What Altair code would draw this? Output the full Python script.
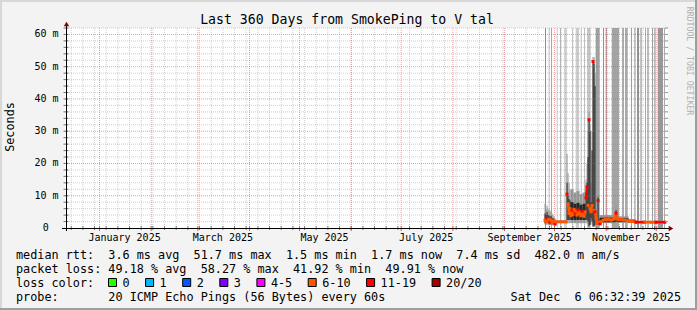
import altair as alt
import pandas as pd

FONT = "DejaVu Sans Mono"
START = pd.Timestamp("2024-12-11 06:32:39")
END = pd.Timestamp("2025-12-06 06:32:39")
DAY = pd.Timedelta(days=1)
SPAN = (END - START) / DAY
REF = pd.Timestamp("2025-10-01 00:00:00")
REF_D = (REF - START) / DAY

W, H = 600, 200
YMAX = 62.0
PADL, PADT = 65, 28

# ---------------- text ----------------
title_text = "Last 360 Days from SmokePing to V tal"
y_title = "Seconds"
watermark = "RRDTOOL / TOBI OETIKER"
line_rtt = "median rtt:  3.6 ms avg  51.7 ms max  1.5 ms min  1.7 ms now  7.4 ms sd  482.0 m am/s"
line_loss = "packet loss: 49.18 % avg  58.27 % max  41.92 % min  49.91 % now"
line_color = "loss color:"
line_probe = "probe:       20 ICMP Echo Pings (56 Bytes) every 60s"
line_date = "Sat Dec  6 06:32:39 2025"

loss_labels = ["0", "1", "2", "3", "4-5", "6-10", "11-19", "20/20"]
loss_colors = ["#26ff00", "#00b8ff", "#0059ff", "#7e00ff", "#ff00ff", "#ff5500", "#ff0000", "#a00000"]

# ---------------- axes ----------------
month_label_text = ["January 2025", "March 2025", "May 2025", "July 2025", "September 2025", "November 2025"]
month_label_at = ["2025-01-16", "2025-03-16", "2025-05-16", "2025-07-16", "2025-09-16", "2025-11-16"]
month_starts = ["2025-01-01", "2025-02-01", "2025-03-01", "2025-04-01", "2025-05-01", "2025-06-01",
                "2025-07-01", "2025-08-01", "2025-09-01", "2025-10-01", "2025-11-01", "2025-12-01"]
y_major = [10, 20, 30, 40, 50, 60]
y_major_labels = ["10 m", "20 m", "30 m", "40 m", "50 m", "60 m"]
y_minor = [2, 4, 6, 8, 12, 14, 16, 18, 22, 24, 26, 28, 32, 34, 36, 38, 42, 44, 46, 48, 52, 54, 56, 58, 62]

# ---------------- data (days relative to 2025-10-01, values in ms) ----------------
med_day = [-5.7, -5.1, -4.5, -3.9, -3.3, -2.7, -2.1, -1.5, -0.9, -0.3, 0.3, 0.9, 3.9, 6.9,
           7.5, 8.1, 8.7, 9.3, 9.9, 10.5, 11.1, 11.7, 12.3, 12.9, 13.5, 14.1, 14.7, 15.3, 15.9,
           16.5, 17.1, 17.7, 18.3, 18.9, 19.5, 20.1, 20.7, 21.3, 21.9, 22.5, 23.1, 23.7, 24.3,
           24.9, 25.5, 26.1, 26.7, 27.3, 27.9, 29.1, 30.3, 31.5, 32.7, 33.9, 35.1, 36.3, 36.9,
           37.5, 38.1, 39.3, 41.1, 42.9, 44.7, 46.5, 48.3, 48.9, 53.7, 54.3, 57.9, 60.3, 60.9, 66.2]
med_val = [2.5, 2.0, 3.0, 2.2, 2.7, 1.8, 2.4, 1.6, 2.1, 1.9, 1.2, 1.9, 1.9, 1.9,
           10.5, 7.5, 4.5, 6.0, 3.8, 5.5, 4.2, 5.8, 4.6, 5.2, 4.0, 5.6, 4.4, 4.9, 3.8,
           5.2, 4.2, 3.6, 5.0, 9.3, 12.8, 7.0, 33.5, 6.0, 5.0, 7.0, 51.6, 5.5, 5.0,
           3.0, 1.5, 8.5, 1.8, 1.3, 2.0, 2.4, 2.6, 2.5, 2.7, 2.4, 2.6, 3.0, 4.6,
           3.2, 2.6, 2.6, 2.5, 2.4, 2.1, 2.1, 1.9, 1.8, 1.8, 1.8, 1.8, 1.8, 1.8, 1.8]
med_loss = ["o", "o", "r", "o", "o", "r", "o", "o", "o", "o", "r", "o", "o", "o",
            "r", "o", "o", "o", "o", "r", "o", "o", "r", "o", "o", "r", "o", "o", "o",
            "r", "o", "o", "o", "r", "r", "o", "r", "o", "o", "o", "r", "o", "r",
            "o", "o", "r", "o", "r", "o", "o", "o", "o", "o", "o", "o", "o", "r",
            "o", "o", "o", "o", "o", "o", "o", "o", "r", "r", "o", "o", "o", "r", "r"]

smoke_start = [-6.0, -5.4, -4.8, -4.2, -3.6, -3.0, -2.4, -1.8, -1.2, -0.6, 0.0, 0.6, 7.2, 7.8, 8.4,
               9.0, 9.6, 11.4, 13.2, 15.0, 16.8, 18.6, 19.2, 19.8, 20.4, 21.0, 21.6, 22.2, 22.8,
               23.4, 24.0, 24.6, 25.2, 25.8, 26.4, 27.0, 36.6, 37.2, 44.4, 48.6]
smoke_end = [-5.4, -4.8, -4.2, -3.6, -3.0, -2.4, -1.8, -1.2, -0.6, 0.0, 0.6, 7.2, 7.8, 8.4, 9.0,
             9.6, 11.4, 13.2, 15.0, 16.8, 18.6, 19.2, 19.8, 20.4, 21.0, 21.6, 22.2, 22.8, 23.4,
             24.0, 24.6, 25.2, 25.8, 26.4, 27.0, 36.6, 37.2, 44.4, 48.6, 66.3]
light_lo = [1.0, 1.0, 1.0, 1.0, 1.0, 0.8, 1.0, 0.8, 1.0, 0.8, 0.8, 1.5, 1.5, 1.5, 1.5,
            1.5, 1.5, 1.5, 1.5, 1.5, 1.5, 1.5, 1.5, 1.0, 0.5, 1.0, 2.0, 1.0, 0.5,
            0.5, 1.0, 1.5, 1.0, 1.0, 1.2, 1.5, 1.8, 1.6, 1.6, 1.5]
light_hi = [7.5, 6.0, 7.0, 6.0, 5.5, 5.0, 5.5, 4.5, 4.0, 3.5, 3.0, 2.4, 23.0, 17.0, 14.0,
            12.0, 12.0, 11.0, 11.5, 10.5, 11.0, 15.0, 20.0, 30.0, 36.0, 32.0, 14.0, 30.0, 53.0,
            53.0, 48.0, 6.0, 4.0, 10.0, 4.0, 4.0, 7.5, 3.6, 2.8, 2.2]
dark_lo = [1.5, 1.5, 1.8, 1.5, 1.6, 1.2, 1.5, 1.2, 1.4, 1.2, 1.0, 1.7, 2.5, 2.5, 2.5,
           2.5, 2.5, 2.5, 2.5, 2.5, 2.5, 2.5, 2.5, 2.0, 0.5, 1.0, 3.0, 2.0, 0.5,
           0.5, 0.8, 2.0, 1.2, 1.0, 1.4, 1.8, 2.0, 1.9, 1.8, 1.6]
dark_hi = [4.5, 4.0, 5.0, 4.0, 3.8, 3.5, 3.8, 3.0, 3.0, 2.6, 2.2, 2.1, 14.0, 10.0, 9.0,
           8.5, 8.0, 7.5, 7.8, 7.2, 7.5, 11.0, 14.0, 22.0, 34.0, 30.0, 8.0, 24.0, 52.0,
           51.0, 44.0, 4.0, 2.5, 9.5, 2.6, 3.2, 5.5, 3.0, 2.4, 2.0]

band_start = [-5.7, -3.6, -2.1, 1.3, 3.3, 5.7, 10.5, 12.7, 15.7, 17.7, 19.5, 24.7, 29.1, 30.7,
              34.3, 40.5, 42.3, 45.9, 47.7, 49.5, 51.3, 54.3, 55.5, 58.5, 59.7, 61.9, 65.7]
band_end = [-5.1, -3.0, -1.5, 1.9, 3.9, 7.5, 11.1, 14.7, 16.3, 18.3, 21.7, 27.1, 29.7, 31.5,
            38.7, 41.7, 43.9, 46.5, 48.7, 50.7, 52.5, 54.9, 56.7, 59.1, 60.7, 65.1, 66.3]
band_gray = ["#8c8c8c", "#cdcdcd", "#a6a6a6", "#c8c8c8", "#b4b4b4", "#d2d2d2", "#c8c8c8",
             "#cccccc", "#bdbdbd", "#c8c8c8", "#c4c4c4", "#a0a0a0", "#8c8c8c", "#aaaaaa",
             "#a4a4a4", "#acacac", "#a8a8a8", "#a0a0a0", "#bbbbbb", "#909090", "#c0c0c0",
             "#a8a8a8", "#bcbcbc", "#999999", "#c0c0c0", "#989898", "#a8a8a8"]

LOSS_COL = {"o": "#ff5500", "r": "#ff0000"}


def nb(s):
    return s.replace(" ", "\u00a0")


def dd(ts):
    return (pd.Timestamp(ts) - START) / DAY


xs = alt.Scale(domain=[0, SPAN], nice=False, zero=False)
ys = alt.Scale(domain=[0, YMAX], nice=False, zero=True)


def X(f="d"):
    return alt.X(f"{f}:Q", scale=xs, axis=None)


def Y(f="v"):
    return alt.Y(f"{f}:Q", scale=ys, axis=None)


one = pd.DataFrame({"k": [0]})
layers = []


def vtext(txt, x, y, size, align="left", baseline="alphabetic", color="#000000", angle=0):
    kw = dict(font=FONT, fontSize=size, align=align, baseline=baseline, color=color)
    if angle:
        kw["angle"] = angle
    return alt.Chart(one).mark_text(**kw).encode(
        x=alt.value(x), y=alt.value(y), text=alt.value(nb(txt)))


def vrect(x, x2, y, y2, fill, stroke=None):
    kw = dict(fill=fill)
    if stroke:
        kw.update(stroke=stroke, strokeWidth=1)
    else:
        kw.update(strokeWidth=0)
    return alt.Chart(one).mark_rect(**kw).encode(
        x=alt.value(x), x2=alt.value(x2), y=alt.value(y), y2=alt.value(y2))


def vrule(x, x2, y, y2, color, width=1.0):
    return alt.Chart(one).mark_rule(color=color, strokeWidth=width).encode(
        x=alt.value(x), x2=alt.value(x2), y=alt.value(y), y2=alt.value(y2))


# extra white strip right of plot
layers.append(vrect(W, W + 3, 0, H, "#ffffff"))

# full-height gray bands
bands = pd.DataFrame({"d": [REF_D + v for v in band_start], "d2": [REF_D + v for v in band_end],
                      "c": band_gray})
layers.append(alt.Chart(bands).mark_rect(strokeWidth=0).encode(
    x=X("d"), x2=alt.X2("d2"), y=alt.value(0), y2=alt.value(H), color=alt.Color("c:N", scale=None)))

# grid
weeks = [dd(t) for t in pd.date_range(START.normalize(), END, freq="W-SUN") if 0 < dd(t) < SPAN]
wk = pd.DataFrame({"d": weeks})
mo = pd.DataFrame({"d": [dd(t) for t in month_starts]})
GRID = dict(color="#8f8f8f", opacity=0.42, strokeDash=[1, 1], strokeWidth=1)
MGRID = dict(color="#e05050", opacity=0.55, strokeDash=[1, 1], strokeWidth=1)
layers.append(alt.Chart(wk).mark_rule(**GRID).encode(x=X("d"), y=alt.value(0), y2=alt.value(H)))
layers.append(alt.Chart(pd.DataFrame({"v": y_minor})).mark_rule(**GRID).encode(
    y=Y("v"), x=alt.value(0), x2=alt.value(W + 3)))

# smoke
sm = pd.DataFrame({"d": [REF_D + v for v in smoke_start], "d2": [REF_D + v for v in smoke_end],
                   "llo": light_lo, "lhi": light_hi, "dlo": dark_lo, "dhi": dark_hi})
layers.append(alt.Chart(sm).mark_rect(color="#969696", strokeWidth=0).encode(
    x=X("d"), x2=alt.X2("d2"), y=Y("llo"), y2=alt.Y2("lhi")))
layers.append(alt.Chart(sm).mark_rect(color="#262626", strokeWidth=0).encode(
    x=X("d"), x2=alt.X2("d2"), y=Y("dlo"), y2=alt.Y2("dhi")))

# major grid on top
layers.append(alt.Chart(mo).mark_rule(**MGRID).encode(x=X("d"), y=alt.value(0), y2=alt.value(H)))
layers.append(alt.Chart(pd.DataFrame({"v": y_major})).mark_rule(**MGRID).encode(
    y=Y("v"), x=alt.value(0), x2=alt.value(W + 3)))

# median line segments, coloured by loss
seg = {"d": [], "d2": [], "v": [], "v2": [], "c": []}
for i in range(len(med_day) - 1):
    a, b = med_loss[i], med_loss[i + 1]
    if a == b or abs(med_val[i + 1] - med_val[i]) < 2.5:
        seg["d"].append(REF_D + med_day[i])
        seg["d2"].append(REF_D + med_day[i + 1])
        seg["v"].append(med_val[i])
        seg["v2"].append(med_val[i + 1])
        seg["c"].append(LOSS_COL[a] if a == b else LOSS_COL["o"])
segdf = pd.DataFrame(seg)
layers.append(alt.Chart(segdf).mark_rule(strokeWidth=2.5).encode(
    x=X("d"), x2=alt.X2("d2"), y=Y("v"), y2=alt.Y2("v2"), color=alt.Color("c:N", scale=None)))
pts = pd.DataFrame({"d": [REF_D + v for v in med_day], "v": med_val,
                    "c": [LOSS_COL[c] for c in med_loss]})
layers.append(alt.Chart(pts).mark_square(size=9, opacity=1, strokeWidth=0).encode(
    x=X("d"), y=Y("v"), color=alt.Color("c:N", scale=None)))

# axis ticks
layers.append(alt.Chart(wk).mark_rule(color="#777777", strokeWidth=1).encode(
    x=X("d"), y=alt.value(198), y2=alt.value(202)))
layers.append(alt.Chart(mo).mark_rule(color="#e05050", strokeWidth=1).encode(
    x=X("d"), y=alt.value(198), y2=alt.value(203)))
layers.append(alt.Chart(pd.DataFrame({"v": y_minor + y_major})).mark_rule(color="#777777", strokeWidth=1).encode(
    y=Y("v"), x=alt.value(-1.5), x2=alt.value(3.5)))
layers.append(alt.Chart(pd.DataFrame({"v": y_minor + y_major})).mark_rule(color="#999999", strokeWidth=1).encode(
    y=Y("v"), x=alt.value(W), x2=alt.value(W + 3)))

# axis lines and arrows
layers.append(vrule(-3, W + 4, 200.5, 200.5, "#000000"))
layers.append(vrule(1.5, 1.5, 203, -4, "#000000"))
layers.append(alt.Chart(one).mark_point(shape="triangle-up", filled=True, size=28, color="#800000", opacity=1).encode(
    x=alt.value(1.5), y=alt.value(-4)))
layers.append(alt.Chart(one).mark_point(shape="triangle-right", filled=True, size=28, color="#800000", opacity=1).encode(
    x=alt.value(W + 6), y=alt.value(200.5)))

# axis labels
ylab = pd.DataFrame({"v": y_major, "t": [nb(s) for s in y_major_labels]})
layers.append(alt.Chart(ylab).mark_text(font=FONT, fontSize=10, align="right", baseline="middle").encode(
    y=Y("v"), x=alt.value(-6.5), text="t:N"))
layers.append(alt.Chart(pd.DataFrame({"v": [0], "t": ["0"]})).mark_text(
    font=FONT, fontSize=10, align="right", baseline="middle").encode(y=Y("v"), x=alt.value(-16.3), text="t:N"))
xlab = pd.DataFrame({"d": [dd(t) for t in month_label_at], "t": [nb(s) for s in month_label_text]})
layers.append(alt.Chart(xlab).mark_text(font=FONT, fontSize=10, align="center", baseline="alphabetic").encode(
    x=X("d"), y=alt.value(212.5), text="t:N"))

# titles
layers.append(vtext(title_text, 282, -4, 13.2, align="center"))
layers.append(vtext(y_title, -55, 99, 11.8, align="center", baseline="middle", angle=270))
layers.append(vtext(watermark, 624, 33, 8.2, align="center", baseline="middle", color="#b0b0b0", angle=90))

# legend block
LX = 16 - PADL
layers.append(vtext(line_rtt, LX, 259 - PADT, 11.8))
layers.append(vtext(line_loss, LX, 273 - PADT, 11.8))
layers.append(vtext(line_color, LX, 287 - PADT, 11.8))
layers.append(vtext(line_probe, LX, 300.5 - PADT, 11.8))
layers.append(vtext(line_date, 681 - PADL, 300.5 - PADT, 11.8, align="right"))
bx = 108.5 - PADL
for lab, col in zip(loss_labels, loss_colors):
    layers.append(vrect(bx, bx + 8, 278.5 - PADT, 286.5 - PADT, col, stroke="#000000"))
    layers.append(vtext(lab, bx + 14, 287 - PADT, 11.8))
    bx += 30 + 7.1 * len(lab)

# frame
layers.append(vrect(-PADL, 697 - PADL, -PADT, -PADT + 2, "#d8d8d8"))
layers.append(vrect(-PADL, -PADL + 2, -PADT, 310 - PADT, "#d8d8d8"))
layers.append(vrect(-PADL, 697 - PADL, 308 - PADT, 310 - PADT, "#9e9e9e"))
layers.append(vrect(695 - PADL, 697 - PADL, -PADT, 310 - PADT, "#9e9e9e"))

chart = alt.layer(*layers).properties(
    width=W, height=H,
    autosize=alt.AutoSizeParams(type="none"),
    padding={"left": PADL, "top": PADT, "right": 697 - PADL - W, "bottom": 310 - PADT - H},
    background="#f3f3f3",
).configure_view(fill="#ffffff", strokeWidth=0)

chart.save("out.html", embed_options={"renderer": "svg", "actions": False})
